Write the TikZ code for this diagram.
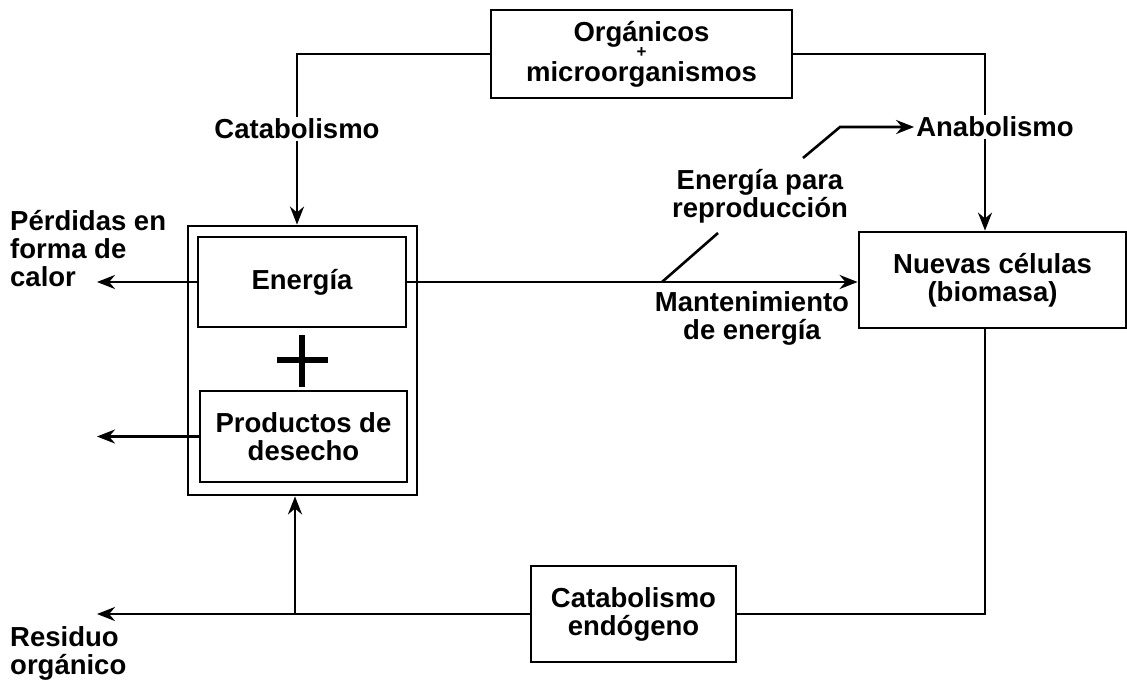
\documentclass[tikz,border=0pt]{standalone}
\usepackage{fontspec}
\setmainfont{Liberation Sans}
\usetikzlibrary{arrows.meta}
\newcommand\lbl{\bfseries\fontsize{27.5}{28}\selectfont}
\begin{document}
\begin{tikzpicture}[x=1pt,y=-1pt,
  box/.style={draw, line width=2.8pt, inner sep=0pt, align=center, font=\lbl},
  lab/.style={inner sep=2pt, align=center, font=\lbl},
  conn/.style={line width=2.6pt},
  arr/.style={conn, -{Stealth[length=18pt,width=14pt]}}]
\useasboundingbox (0,0) rectangle (1127,688);
% boxes
\node[box, minimum width=301, minimum height=88] (org) at (641.5,54)
  {Orgánicos\\[-12pt]{\fontsize{17}{17}\selectfont +}\\[-4pt]microorganismos};
\node[draw, line width=2.8pt, minimum width=229, minimum height=269, inner sep=0pt] (outer) at (302.5,360.5) {};
\node[box, minimum width=208, minimum height=90] (en) at (302,282) {Energía};
\node[box, minimum width=207, minimum height=91] (prod) at (303.5,436.5) {Productos de\\desecho};
\node[box, minimum width=267, minimum height=96] (nuevas) at (992.5,280) {Nuevas células\\(biomasa)};
\node[box, minimum width=205, minimum height=96] (ce) at (633.5,614) {Catabolismo\\endógeno};
% plus sign
\draw[line width=5.5pt] (277,360) -- (328,360);
\draw[line width=5.5pt] (302,335) -- (302,387);
% labels
\node[lab, align=left, anchor=north west] (perd) at (8,208) {Pérdidas en\\forma de\\calor};
\node[lab, align=left, anchor=north west] (res) at (8,624) {Residuo\\orgánico};
\node[lab] (catab) at (297,129) {Catabolismo};
\node[lab] (anab) at (995,127) {Anabolismo};
\node[lab] (epr) at (760,196) {Energía para\\reproducción};
\node[lab] (mant) at (752,318) {Mantenimiento\\de energía};
% coordinates
\coordinate (rv) at (985,53);
\coordinate (jn) at (295,614);
\coordinate (tipx) at (97,0);
\coordinate (d1) at (662,282);
\coordinate (d2) at (718,233);
\coordinate (d3) at (803,158);
\coordinate (d4) at (840,127);
% connectors
\draw[conn] (org.west) -| (catab.north);
\draw[arr] (catab.south) -- (outer.north -| catab.south);
\draw[conn] (org.east) -| (anab.north -| rv);
\draw[arr] (anab.south -| rv) -- (nuevas.north -| rv);
\draw[arr] (en.west) -- (en.west -| tipx);
\draw[arr] (prod.west) -- (prod.west -| tipx);
\draw[arr] (en.east) -- (en.east -| nuevas.west);
\draw[conn] (d1) -- (d2);
\draw[arr] (d3) -- (d4) -- (anab.west);
\draw[conn] (nuevas.south -| rv) |- (ce.east);
\draw[arr] (ce.west) -- (ce.west -| tipx);
\draw[arr] (jn) -- (outer.south -| jn);
\end{tikzpicture}
\end{document}
